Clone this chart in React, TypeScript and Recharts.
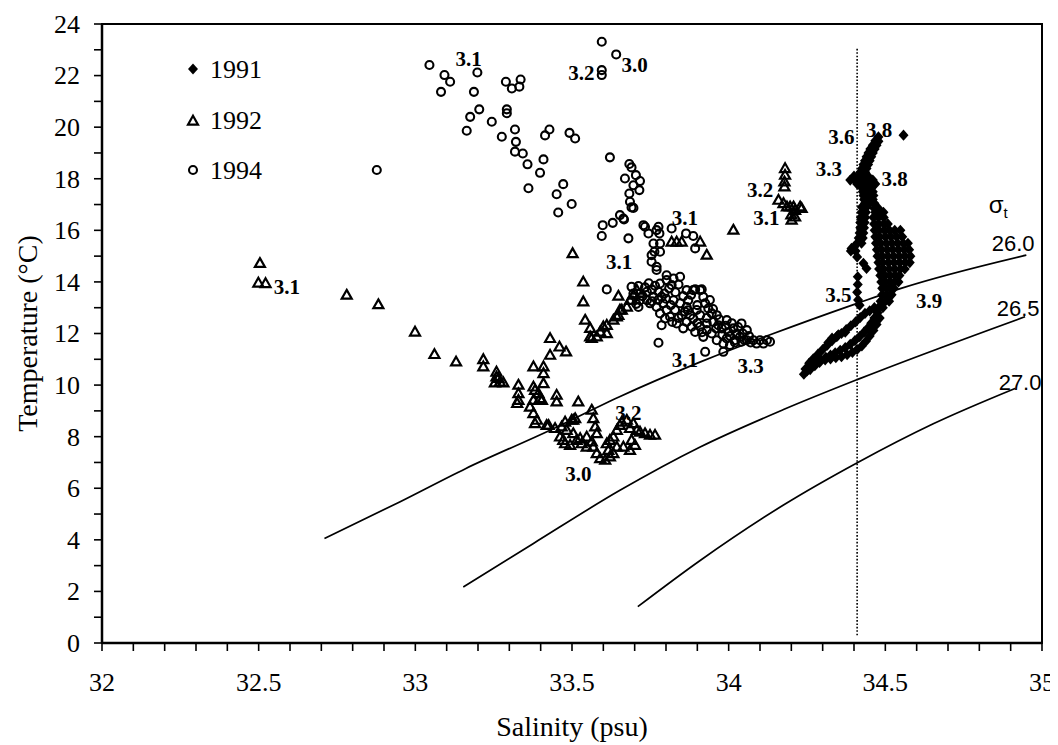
import React from 'react';
import { ScatterChart, Scatter, XAxis, YAxis, ReferenceArea, Legend } from 'recharts';

type P = [number, number];

const X_TICKS = [32, 32.1, 32.2, 32.3, 32.4, 32.5, 32.6, 32.7, 32.8, 32.9, 33, 33.1, 33.2, 33.3, 33.4, 33.5, 33.6, 33.7, 33.8, 33.9, 34, 34.1, 34.2, 34.3, 34.4, 34.5, 34.6, 34.7, 34.8, 34.9, 35];
const Y_TICKS = [0, 1, 2, 3, 4, 5, 6, 7, 8, 9, 10, 11, 12, 13, 14, 15, 16, 17, 18, 19, 20, 21, 22, 23, 24];
const LEGEND_NAMES = ['1991', '1992', '1994'];

const CURVE_260: P[] = [[32.71, 4.05], [32.95, 5.47], [33.16, 6.76], [33.43, 8.25], [33.65, 9.54], [33.91, 10.9], [34.13, 11.94], [34.41, 13.17], [34.55, 13.75], [34.95, 15.04]];
const CURVE_265: P[] = [[33.153, 2.17], [33.377, 3.86], [33.653, 5.92], [33.909, 7.6], [34.175, 9.05], [34.412, 10.22], [34.946, 12.65]];
const CURVE_270: P[] = [[33.71, 1.41], [33.909, 3.2], [34.175, 5.35], [34.412, 7.0], [34.653, 8.5], [34.914, 9.87]];
const DOTTED: P[] = [[34.41, 0.3], [34.41, 23.06]];

const Y1991: P[] = [
  [34.558, 19.69],
  [34.478, 19.62], [34.468, 19.47], [34.478, 19.45], [34.46, 19.3], [34.472, 19.3], [34.452, 19.15], [34.466, 19.15], [34.446, 19.0], [34.46, 19.0],
  [34.44, 18.85], [34.455, 18.85], [34.435, 18.7], [34.45, 18.7], [34.43, 18.55], [34.445, 18.55], [34.426, 18.4], [34.44, 18.4], [34.42, 18.25], [34.436, 18.25],
  [34.4, 18.1], [34.415, 18.1], [34.43, 18.1], [34.445, 18.1],
  [34.388, 17.95], [34.402, 17.95], [34.418, 17.95], [34.433, 17.95], [34.448, 17.95], [34.46, 17.95],
  [34.41, 17.8], [34.425, 17.8], [34.44, 17.8], [34.455, 17.8], [34.468, 17.8],
  [34.425, 17.65], [34.44, 17.65], [34.455, 17.65], [34.428, 17.5], [34.443, 17.5], [34.46, 17.5],
  [34.43, 17.35], [34.445, 17.35], [34.462, 17.35], [34.432, 17.2], [34.447, 17.2], [34.46, 17.2],
  [34.435, 17.05], [34.45, 17.05], [34.465, 17.05],
  [34.425, 16.9], [34.44, 16.9], [34.424, 16.7], [34.438, 16.7], [34.422, 16.5], [34.436, 16.5], [34.42, 16.3], [34.434, 16.3], [34.42, 16.1], [34.432, 16.1],
  [34.418, 15.9], [34.43, 15.9], [34.415, 15.7], [34.428, 15.7], [34.41, 15.5], [34.424, 15.5], [34.4, 15.35], [34.392, 15.3], [34.39, 15.2], [34.405, 15.2],
  [34.41, 14.97], [34.43, 14.72], [34.44, 14.52], [34.412, 14.2], [34.412, 13.9], [34.41, 13.6], [34.413, 13.3], [34.418, 13.1],
  [34.465, 16.85], [34.478, 16.85], [34.468, 16.7], [34.482, 16.7], [34.494, 16.7], [34.462, 16.5], [34.478, 16.5], [34.495, 16.5],
  [34.464, 16.25], [34.478, 16.25], [34.495, 16.25], [34.508, 16.25],
  [34.466, 16.0], [34.48, 16.0], [34.497, 16.0], [34.513, 16.0], [34.53, 16.0], [34.548, 16.0],
  [34.468, 15.75], [34.482, 15.75], [34.5, 15.75], [34.518, 15.75], [34.536, 15.75], [34.554, 15.75],
  [34.47, 15.5], [34.485, 15.5], [34.503, 15.5], [34.521, 15.5], [34.539, 15.5], [34.557, 15.5], [34.572, 15.5],
  [34.473, 15.25], [34.488, 15.25], [34.506, 15.25], [34.524, 15.25], [34.542, 15.25], [34.56, 15.25], [34.576, 15.25],
  [34.475, 15.0], [34.49, 15.0], [34.508, 15.0], [34.526, 15.0], [34.544, 15.0], [34.562, 15.0], [34.58, 15.0],
  [34.478, 14.75], [34.492, 14.75], [34.51, 14.75], [34.528, 14.75], [34.546, 14.75], [34.564, 14.75], [34.578, 14.75],
  [34.48, 14.5], [34.494, 14.5], [34.512, 14.5], [34.53, 14.5], [34.548, 14.5], [34.562, 14.5],
  [34.484, 14.25], [34.498, 14.25], [34.514, 14.25], [34.53, 14.25], [34.545, 14.25],
  [34.487, 14.0], [34.5, 14.0], [34.515, 14.0], [34.53, 14.0], [34.542, 14.0],
  [34.49, 13.75], [34.503, 13.75], [34.516, 13.75], [34.527, 13.75],
  [34.49, 13.5], [34.505, 13.5], [34.52, 13.5], [34.485, 13.25], [34.5, 13.25], [34.512, 13.25], [34.478, 13.0], [34.492, 13.0],
  [34.465, 13.0], [34.45, 12.88], [34.435, 12.78], [34.42, 12.62], [34.405, 12.45], [34.39, 12.3], [34.375, 12.15], [34.36, 12.0], [34.345, 11.88], [34.33, 11.72],
  [34.315, 11.55], [34.3, 11.38], [34.285, 11.2], [34.27, 11.02], [34.257, 10.85], [34.245, 10.62],
  [34.475, 12.8], [34.465, 12.6], [34.455, 12.4], [34.445, 12.22], [34.432, 12.05], [34.418, 11.88], [34.403, 11.72], [34.388, 11.58], [34.372, 11.45],
  [34.356, 11.35], [34.34, 11.25], [34.325, 11.16], [34.31, 11.08], [34.295, 10.98], [34.28, 10.86], [34.265, 10.72], [34.25, 10.55], [34.24, 10.42],
  [34.482, 12.6], [34.472, 12.35], [34.462, 12.12], [34.45, 11.9], [34.438, 11.7], [34.425, 11.52], [34.41, 11.38], [34.395, 11.27], [34.378, 11.18],
  [34.36, 11.1], [34.342, 11.06], [34.325, 11.02], [34.308, 10.98], [34.29, 10.88], [34.275, 10.75], [34.26, 10.6],
  [34.35, 11.95], [34.372, 12.05], [34.33, 11.82], [34.318, 11.65],
];

const Y1992: P[] = [
  [32.504, 14.72], [32.499, 13.96], [32.522, 13.94],
  [32.781, 13.49], [32.882, 13.12], [32.999, 12.06], [33.061, 11.19], [33.13, 10.9],
  [33.217, 10.99], [33.217, 10.71], [33.259, 10.51], [33.259, 10.32], [33.27, 10.12], [33.254, 10.09], [33.281, 10.09], [33.265, 10.26],
  [33.329, 10.0], [33.329, 9.67], [33.329, 9.41], [33.325, 9.29],
  [33.377, 10.71], [33.409, 10.71], [33.409, 10.45], [33.43, 11.16], [33.43, 11.81], [33.46, 11.48], [33.481, 11.29],
  [33.382, 9.8], [33.409, 10.06], [33.377, 9.41], [33.398, 9.48], [33.366, 9.15], [33.377, 8.9], [33.382, 8.51], [33.388, 8.64], [33.393, 9.67], [33.377, 9.93], [33.404, 9.41],
  [33.451, 9.61], [33.451, 9.35], [33.52, 9.35], [33.504, 8.64], [33.425, 8.44],
  [33.419, 8.44], [33.446, 8.32], [33.478, 8.57], [33.483, 8.25], [33.472, 7.86], [33.478, 7.73], [33.499, 8.64], [33.51, 8.7], [33.504, 8.12], [33.515, 7.86], [33.526, 7.93], [33.547, 7.99],
  [33.563, 9.03], [33.568, 8.7], [33.574, 8.38], [33.579, 8.12], [33.563, 7.8], [33.568, 7.6], [33.579, 7.35], [33.59, 7.15], [33.606, 7.09], [33.621, 7.22], [33.616, 7.47], [33.611, 7.73],
  [33.621, 7.86], [33.632, 7.99], [33.643, 8.25], [33.653, 8.44], [33.659, 8.57], [33.675, 8.64], [33.685, 8.32], [33.696, 8.51], [33.707, 8.25], [33.717, 8.18], [33.733, 8.12], [33.749, 8.06],
  [33.765, 8.06], [33.69, 7.86], [33.701, 7.67], [33.685, 7.47], [33.664, 7.6], [33.643, 7.6], [33.632, 7.35], [33.547, 7.6], [33.531, 7.73], [33.494, 7.67], [33.462, 7.99], [33.467, 8.38],
  [33.502, 15.1], [33.536, 14.0], [33.536, 13.23], [33.542, 12.52], [33.558, 12.2], [33.563, 11.81], [33.579, 11.87], [33.59, 12.06], [33.611, 12.32], [33.611, 12.0], [33.632, 12.52],
  [33.648, 12.71], [33.659, 12.91], [33.675, 13.03], [33.685, 13.29], [33.696, 13.49], [33.707, 13.68], [33.648, 13.45], [33.558, 11.87], [33.6, 12.26], [33.643, 12.65], [33.653, 12.91],
  [33.818, 15.55], [33.834, 15.55], [33.85, 15.55], [33.909, 15.55], [33.93, 15.04], [34.015, 16.01],
  [34.18, 18.4], [34.18, 18.14], [34.178, 17.88], [34.178, 17.69], [34.159, 17.17], [34.175, 17.04], [34.186, 16.91], [34.196, 16.91], [34.207, 16.91], [34.228, 16.91], [34.233, 16.85], [34.212, 16.78], [34.212, 16.52], [34.201, 16.4], [34.2, 16.6],
];

const Y1994: P[] = [
  [32.877, 18.34],
  [33.045, 22.41], [33.093, 22.02], [33.111, 21.76], [33.082, 21.37], [33.198, 22.12], [33.187, 21.37], [33.289, 21.76], [33.308, 21.5], [33.332, 21.57], [33.336, 21.85],
  [33.175, 20.4], [33.204, 20.69], [33.164, 19.86], [33.244, 20.21], [33.292, 20.69], [33.292, 20.54], [33.276, 19.63], [33.318, 19.91], [33.321, 19.43], [33.318, 19.05], [33.343, 18.98],
  [33.358, 18.56], [33.409, 18.75], [33.398, 18.23], [33.361, 17.63], [33.428, 19.91], [33.414, 19.68], [33.492, 19.78], [33.51, 19.56], [33.472, 17.79], [33.451, 17.4], [33.499, 17.02], [33.456, 16.69],
  [33.595, 23.31], [33.641, 22.82], [33.595, 22.21], [33.595, 22.02],
  [33.621, 18.83], [33.683, 18.57], [33.69, 18.44], [33.669, 18.01], [33.704, 18.14], [33.717, 17.91], [33.696, 17.75], [33.715, 17.56], [33.683, 17.43], [33.685, 17.11], [33.696, 16.87],
  [33.598, 16.2], [33.63, 16.29], [33.653, 16.59], [33.666, 16.42], [33.664, 16.46], [33.69, 16.89], [33.595, 15.78], [33.68, 15.69],
  [33.728, 16.2], [33.744, 15.88], [33.776, 16.14], [33.779, 15.88], [33.76, 15.49], [33.781, 15.49], [33.763, 15.17], [33.781, 15.17], [33.754, 14.78], [33.77, 14.59], [33.818, 16.07], [33.864, 15.88], [33.887, 15.78], [33.893, 15.3],
  [33.733, 16.14], [33.77, 16.01], [33.754, 15.04], [33.845, 14.2], [33.802, 14.26], [33.866, 13.68], [33.887, 13.68], [33.909, 13.68], [33.77, 14.46], [33.611, 13.71],
  [33.69, 13.81], [33.712, 13.84], [33.733, 13.79], [33.696, 13.55], [33.717, 13.55], [33.739, 13.62], [33.69, 13.29], [33.717, 13.29], [33.712, 13.03], [33.739, 13.29], [33.749, 13.17], [33.76, 13.42],
  [33.776, 13.62], [33.781, 13.94], [33.802, 14.07], [33.824, 14.13], [33.818, 13.88], [33.786, 13.42], [33.791, 13.17], [33.77, 13.03], [33.781, 12.78], [33.802, 12.91], [33.797, 12.58], [33.786, 12.32],
  [33.813, 12.65], [33.829, 12.91], [33.834, 12.39], [33.824, 13.29], [33.845, 13.17], [33.866, 13.03], [33.85, 12.71], [33.877, 12.71], [33.866, 12.45], [33.882, 12.26], [33.893, 12.06], [33.909, 12.26],
  [33.887, 12.58], [33.909, 12.71], [33.898, 12.91], [33.871, 13.29], [33.893, 13.71], [33.914, 13.71], [33.919, 13.42], [33.925, 13.17], [33.935, 12.97], [33.946, 12.78], [33.962, 12.71], [33.951, 12.45],
  [33.967, 12.32], [33.978, 12.2], [33.93, 12.39], [33.93, 12.13], [33.919, 11.87], [33.946, 12.0], [33.962, 11.74], [33.983, 11.61], [33.994, 11.81], [33.999, 12.06], [34.015, 12.2], [34.026, 12.0],
  [34.036, 11.87], [34.058, 12.13], [34.041, 12.39], [33.994, 12.52], [33.983, 11.29], [33.925, 11.29], [33.776, 11.64],
  [34.079, 11.74], [34.1, 11.74], [34.122, 11.74], [34.132, 11.68], [34.089, 11.61], [34.111, 11.61], [34.058, 11.74], [34.041, 11.68], [34.02, 11.74], [34.004, 11.55],
  [33.745, 13.95], [33.755, 13.7], [33.765, 13.85], [33.775, 13.3], [33.795, 13.55], [33.81, 13.75], [33.8, 13.35], [33.815, 13.1], [33.83, 13.6], [33.84, 13.9],
  [33.855, 13.45], [33.86, 12.85], [33.84, 12.6], [33.82, 12.45], [33.855, 12.2], [33.87, 12.9], [33.88, 13.5], [33.9, 13.1], [33.9, 12.4], [33.915, 12.05],
  [33.93, 12.6], [33.94, 13.3], [33.95, 12.95], [33.96, 12.2], [33.97, 12.55], [33.98, 11.95], [33.99, 12.3], [34.005, 11.9], [34.01, 12.4], [34.02, 11.65],
  [34.03, 12.25], [34.045, 12.0], [34.05, 11.75], [34.065, 11.9], [34.07, 11.65], [33.755, 13.25], [33.725, 13.45], [33.705, 13.15],
];

const NUMBER_LABELS: [number, number, string][] = [
  [32.59, 13.8, '3.1'], [33.17, 22.64, '3.1'], [33.53, 22.13, '3.2'], [33.7, 22.41, '3.0'], [34.1, 17.56, '3.2'], [34.12, 16.51, '3.1'],
  [33.86, 16.51, '3.1'], [33.65, 14.77, '3.1'], [33.86, 10.97, '3.1'], [34.07, 10.77, '3.3'], [33.68, 8.95, '3.2'], [33.52, 6.58, '3.0'],
  [34.36, 19.62, '3.6'], [34.48, 19.89, '3.8'], [34.32, 18.41, '3.3'], [34.53, 18.02, '3.8'], [34.35, 13.49, '3.5'], [34.64, 13.29, '3.9'],
];
const SIGMA_LABELS: [number, number, string][] = [
  [34.86, 16.97, 'σt'], [34.908, 15.5, '26.0'], [34.924, 12.98, '26.5'], [34.93, 10.11, '27.0'],
];

const FONT = '"Liberation Serif", "Times New Roman", serif';
const SANS = '"Liberation Sans", Arial, sans-serif';
const toPts = (a: P[]) => a.map(([s, t]) => ({ s, t }));
const toLabels = (a: [number, number, string][]) => a.map(([s, t, label]) => ({ s, t, label }));

const diamondPath = (cx: number, cy: number) => `M${cx},${cy - 5.6} L${cx + 5},${cy} L${cx},${cy + 5.6} L${cx - 5},${cy} Z`;
const trianglePath = (cx: number, cy: number) => `M${cx},${cy - 5.2} L${cx + 5},${cy + 3.6} L${cx - 5},${cy + 3.6} Z`;

const DiamondShape = (p: any) => <path d={diamondPath(p.cx, p.cy)} fill="#000" />;
const TriangleShape = (p: any) => <path d={trianglePath(p.cx, p.cy)} fill="none" stroke="#000" strokeWidth={2.2} />;
const CircleShape = (p: any) => <circle cx={p.cx} cy={p.cy} r={4} fill="none" stroke="#000" strokeWidth={2.1} />;
const NoShape = () => <g />;

const NumberLabel = (p: any) => {
  const label = p.payload?.label ?? p.label;
  return (
    <text x={p.cx} y={p.cy} dy="0.35em" textAnchor="middle" fontFamily={FONT} fontWeight="bold" fontSize={21} fill="#000">{label}</text>
  );
};
const SigmaLabel = (p: any) => {
  const label = p.payload?.label ?? p.label;
  if (label === 'σt') {
    return (
      <text x={p.cx} y={p.cy} dy="0.3em" textAnchor="middle" fontFamily={SANS} fontSize={24} fill="#000">
        σ<tspan fontSize={15} dy="5">t</tspan>
      </text>
    );
  }
  return (
    <text x={p.cx} y={p.cy} dy="0.35em" textAnchor="middle" fontFamily={SANS} fontSize={22} fill="#000">{label}</text>
  );
};

const XTick = (p: any) => {
  const v = p.payload.value;
  const major = Math.abs(v * 2 - Math.round(v * 2)) < 1e-6;
  if (!major) return <g />;
  return (
    <text x={p.x} y={p.y} dy="0.71em" textAnchor="middle" fontFamily={FONT} fontSize={26} fill="#000">{String(v)}</text>
  );
};
const YTick = (p: any) => {
  const v = p.payload.value;
  if (v % 2 !== 0) return <g />;
  return (
    <text x={p.x} y={p.y} dy="0.34em" textAnchor="end" fontFamily={FONT} fontSize={26} fill="#000">{String(v)}</text>
  );
};

const XTitle = (p: any) => {
  const vb = p.viewBox || { x: 94, y: 635, width: 940, height: 102 };
  return (
    <text x={vb.x + vb.width / 2} y={vb.y + 84} dy="0.32em" textAnchor="middle" fontFamily={FONT} fontSize={28} fill="#000">Salinity (psu)</text>
  );
};
const YTitle = (p: any) => {
  const vb = p.viewBox || { x: 0, y: 16, width: 94, height: 619 };
  const cx = vb.x + 20;
  const cy = vb.y + vb.height / 2;
  return (
    <text x={cx} y={cy} dy="0.32em" textAnchor="middle" transform={`rotate(-90 ${cx} ${cy})`} fontFamily={FONT} fontSize={28} fill="#000">Temperature (°C)</text>
  );
};

const LegendBox = () => (
  <svg width={140} height={150} style={{ overflow: 'visible' }}>
    <path d={diamondPath(18, 24)} fill="#000" />
    <text x={35} y={24} dy="0.34em" fontFamily={FONT} fontSize={26} fill="#000">{LEGEND_NAMES[0]}</text>
    <path d={trianglePath(18, 76)} fill="none" stroke="#000" strokeWidth={2.2} />
    <text x={35} y={75} dy="0.34em" fontFamily={FONT} fontSize={26} fill="#000">{LEGEND_NAMES[1]}</text>
    <circle cx={18} cy={125} r={4} fill="none" stroke="#000" strokeWidth={2.1} />
    <text x={35} y={125} dy="0.34em" fontFamily={FONT} fontSize={26} fill="#000">{LEGEND_NAMES[2]}</text>
  </svg>
);

export default function App() {
  return (
    <div style={{ width: 1050, height: 737, background: '#fff' }}>
      <style>{`body{overflow:hidden} .recharts-surface{overflow:visible}`}</style>
      <ScatterChart width={1050} height={737} margin={{ top: 16, right: 16, bottom: 0, left: 0 }}>
        <XAxis
          type="number"
          dataKey="s"
          domain={[32, 35]}
          ticks={X_TICKS}
          interval={0}
          allowDataOverflow
          height={102}
          tickSize={8}
          tickMargin={22}
          tick={<XTick />}
          tickLine={{ stroke: '#000', strokeWidth: 1.6 }}
          axisLine={{ stroke: '#000', strokeWidth: 2.5 }}
          label={{ content: <XTitle /> }}
        />
        <YAxis
          type="number"
          dataKey="t"
          domain={[0, 24]}
          ticks={Y_TICKS}
          interval={0}
          allowDataOverflow
          width={94}
          tickSize={8}
          tickMargin={14}
          tick={<YTick />}
          tickLine={{ stroke: '#000', strokeWidth: 1.6 }}
          axisLine={{ stroke: '#000', strokeWidth: 2.5 }}
          label={{ content: <YTitle /> }}
        />
        <ReferenceArea x1={32} x2={35} y1={0} y2={24} fill="none" stroke="#000" strokeWidth={2} ifOverflow="visible" />
        <Legend layout="vertical" align="center" verticalAlign="middle" content={<LegendBox />}
          wrapperStyle={{ position: 'absolute', left: 167, top: 37, width: 140, height: 150 }} />
        <Scatter data={toPts(DOTTED)} line={{ stroke: '#000', strokeWidth: 1.6, strokeDasharray: '1.6 1.8' }} shape={<NoShape />} isAnimationActive={false} legendType="none" />
        <Scatter data={toPts(CURVE_260)} line={{ stroke: '#000', strokeWidth: 1.7 }} lineJointType="monotoneX" shape={<NoShape />} isAnimationActive={false} legendType="none" />
        <Scatter data={toPts(CURVE_265)} line={{ stroke: '#000', strokeWidth: 1.7 }} lineJointType="monotoneX" shape={<NoShape />} isAnimationActive={false} legendType="none" />
        <Scatter data={toPts(CURVE_270)} line={{ stroke: '#000', strokeWidth: 1.7 }} lineJointType="monotoneX" shape={<NoShape />} isAnimationActive={false} legendType="none" />
        <Scatter name="1992" data={toPts(Y1992)} shape={TriangleShape} isAnimationActive={false} legendType="none" />
        <Scatter name="1994" data={toPts(Y1994)} shape={CircleShape} isAnimationActive={false} legendType="none" />
        <Scatter name="1991" data={toPts(Y1991)} shape={DiamondShape} isAnimationActive={false} legendType="none" />
        <Scatter data={toLabels(NUMBER_LABELS)} shape={NumberLabel} isAnimationActive={false} legendType="none" />
        <Scatter data={toLabels(SIGMA_LABELS)} shape={SigmaLabel} isAnimationActive={false} legendType="none" />
      </ScatterChart>
    </div>
  );
}
